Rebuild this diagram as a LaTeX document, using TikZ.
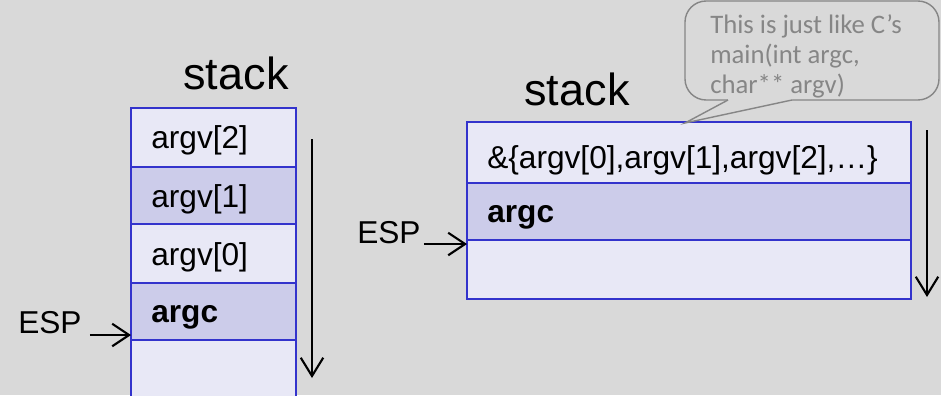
\documentclass[tikz,border=0pt]{standalone}
\usepackage{fontspec}
\setmainfont{Liberation Sans}
\newfontfamily\notefont{Carlito}
\usetikzlibrary{arrows.meta, positioning, shapes}
\definecolor{slidegray}{RGB}{217,217,217}
\definecolor{rowlight}{RGB}{232,232,246}
\definecolor{rowdark}{RGB}{204,204,234}
\definecolor{stackblue}{RGB}{51,51,204}
\definecolor{notegray}{RGB}{134,134,134}

\begin{document}
\begin{tikzpicture}[x=0.025cm, y=-0.025cm,
  cell/.style={draw=stackblue, line width=1.6pt},
  celltext/.style={anchor=base west, inner sep=0pt, font=\fontsize{22.5}{27}\selectfont},
  stacktitle/.style={anchor=base, inner sep=0pt, font=\fontsize{32}{38}\selectfont},
  growth/.style={line width=1.5pt, -{Straight Barb[length=13pt, width=16pt]}},
  pointer/.style={line width=1.5pt, -{Straight Barb[length=12pt, width=16pt]}}]
\useasboundingbox (0,0) rectangle (941,395);
\fill[slidegray] (0,0) rectangle (941,395);

% Left stack
\node[stacktitle] (stackL) at (236,89) {stack};
\draw[cell, fill=rowlight] (131,108) rectangle (296,167);
\draw[cell, fill=rowdark] (131,167) rectangle (296,224);
\draw[cell, fill=rowlight] (131,224) rectangle (296,283);
\draw[cell, fill=rowdark] (131,283) rectangle (296,340);
\draw[cell, fill=rowlight] (131,340) rectangle (296,398);
\node[celltext] (argvTwo) at (151,148) {argv[2]};
\node[celltext] (argvOne) at (151,207) {argv[1]};
\node[celltext] (argvZero) at (151,265) {argv[0]};
\node[celltext] (argcL) at (151,322) {\textbf{argc}};
\draw[growth] (312,139) -- (312,378);

% ESP on the left
\node[celltext] (espL) at (18,333) {ESP};
\coordinate (spL) at (131,335);
\draw[pointer] ([shift={(8,2)}]espL.base east) -- (spL);

% Right stack
\node[stacktitle] (stackR) at (577,105) {stack};
\draw[cell, fill=rowlight] (467,122) rectangle (911,183);
\draw[cell, fill=rowdark] (467,183) rectangle (911,240);
\draw[cell, fill=rowlight] (467,240) rectangle (911,299);
\node[celltext] (argvArray) at (487,168) {\&\{argv[0],argv[1],argv[2],…\}};
\node[celltext] (argcR) at (487,222) {\textbf{argc}};
\draw[growth] (927,130) -- (927,297);

% ESP on the right
\node[celltext] (espR) at (357,243) {ESP};
\coordinate (spR) at (467,244);
\draw[pointer] ([shift={(3,1)}]espR.base east) -- (spR);

% Callout
\draw[notegray, line width=1pt, rounded corners=15] (685,1) rectangle (939,100);
\fill[slidegray] (728,100) -- (685,123) -- (792,100) -- (792,97) -- (728,97) -- cycle;
\draw[notegray, line width=1pt] (728,100) -- (685,123) -- (792,100);
\node[anchor=north west, inner sep=0pt, align=left, text=notegray,
  font=\notefont\fontsize{19}{21.3}\selectfont] (note) at (710,14)
  {This is just like C’s\\main(int argc,\\char** argv)};
\end{tikzpicture}
\end{document}
